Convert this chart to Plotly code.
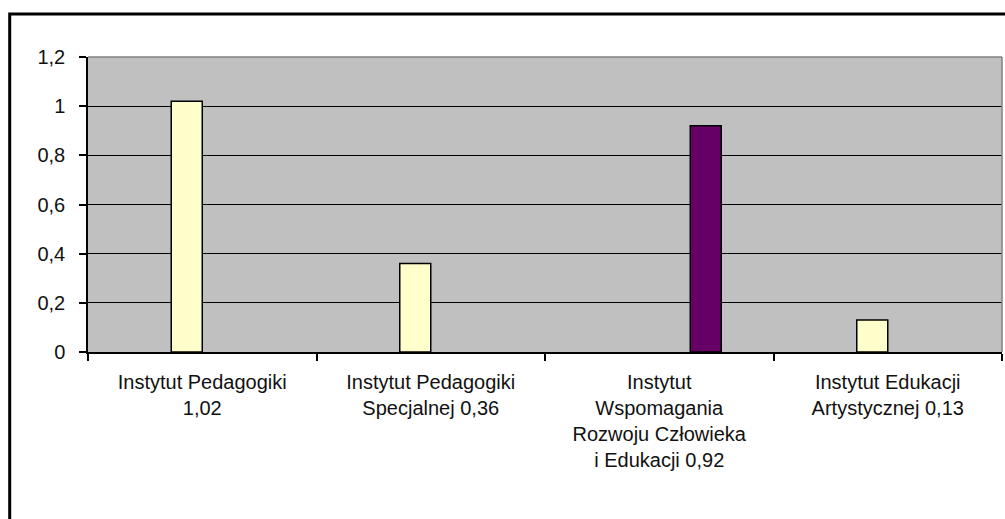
import plotly.graph_objects as go

categories = [
    "Instytut Pedagogiki<br>1,02",
    "Instytut Pedagogiki<br>Specjalnej 0,36",
    "Instytut<br>Wspomagania<br>Rozwoju Człowieka<br>i Edukacji 0,92",
    "Instytut Edukacji<br>Artystycznej 0,13",
]
yellow_values = [1.02, 0.36, None, 0.13]
purple_values = [None, None, 0.92, None]
y_ticks = [0, 0.2, 0.4, 0.6, 0.8, 1.0, 1.2]

W, H = 1005, 519
L, R, T, B = 88, 3, 57, 167
pw = W - L - R
ph = H - T - B

bw = 31 / (pw / 4)

fig = go.Figure()
fig.add_trace(go.Bar(
    x=categories, y=yellow_values, width=bw, offset=-bw,
    marker=dict(color="#FFFFCC", line=dict(color="#000000", width=1.5)),
    showlegend=False, hoverinfo="y",
))
fig.add_trace(go.Bar(
    x=categories, y=purple_values, width=bw, offset=bw,
    marker=dict(color="#660066", line=dict(color="#000000", width=1.5)),
    showlegend=False, hoverinfo="y",
))

font = dict(family="Liberation Sans, Arial, sans-serif", size=20, color="#111111")

fig.update_layout(
    width=W, height=H,
    margin=dict(l=L, r=R, t=T, b=B, pad=0),
    paper_bgcolor="#FFFFFF",
    plot_bgcolor="#C0C0C0",
    separators=",.",
    font=font,
    barmode="overlay",
    xaxis=dict(
        type="category", tickson="boundaries", ticks="outside", ticklen=7,
        tickcolor="#000000", tickwidth=1.5, showline=True, linecolor="#000000",
        linewidth=1.5, showgrid=False, tickfont=font, fixedrange=True,
        ticklabelstandoff=11,
    ),
    yaxis=dict(
        range=[0, 1.2], tickvals=y_ticks, ticks="outside", ticklen=7,
        tickcolor="#000000", tickwidth=1.5, showline=True, linecolor="#000000",
        linewidth=1.5, showgrid=True, gridcolor="#000000", gridwidth=1,
        zeroline=False, tickfont=font, fixedrange=True,
        ticklabelstandoff=10,
    ),
    shapes=[
        dict(type="line", xref="paper", yref="paper", x0=0, x1=1, y0=1, y1=1,
             line=dict(color="#808080", width=1.5), layer="above"),
        dict(type="line", xref="paper", yref="paper", x0=1, x1=1, y0=0, y1=1,
             line=dict(color="#808080", width=1.5), layer="above"),
        dict(type="rect", xref="paper", yref="paper",
             x0=(9.7 - L) / pw, x1=1.2, y0=-1.0, y1=1 + (T - 14) / ph,
             line=dict(color="#000000", width=3), fillcolor="rgba(0,0,0,0)"),
    ],
)

fig.write_html("out.html", config={"displayModeBar": False},
               post_script="document.body.style.margin='0';")
